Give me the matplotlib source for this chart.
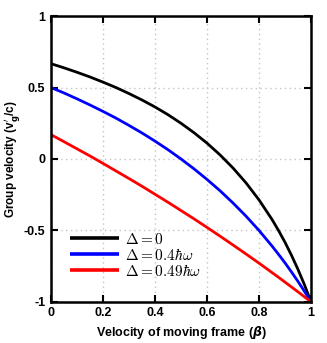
import numpy as np
import matplotlib
matplotlib.use("Agg")
import matplotlib.pyplot as plt

# values
beta = [0.0, 0.05, 0.1, 0.15, 0.2, 0.25, 0.3, 0.35, 0.4, 0.45, 0.5,
        0.55, 0.6, 0.65, 0.7, 0.75, 0.8, 0.85, 0.875, 0.9, 0.925, 0.95, 0.975, 1.0]
vg_delta0 = [0.667, 0.638, 0.607, 0.574, 0.538, 0.500, 0.458, 0.413, 0.364, 0.310,
             0.250, 0.184, 0.111, 0.029, -0.063, -0.167, -0.286, -0.423, -0.500,
             -0.583, -0.674, -0.773, -0.881, -1.0]
vg_delta04 = [0.500, 0.462, 0.421, 0.378, 0.333, 0.286, 0.235, 0.182, 0.125, 0.065,
              0.000, -0.069, -0.143, -0.222, -0.308, -0.400, -0.500, -0.609, -0.667,
              -0.727, -0.791, -0.857, -0.927, -1.0]
vg_delta049 = [0.170, 0.121, 0.071, 0.021, -0.031, -0.084, -0.137, -0.191, -0.247, -0.303,
               -0.361, -0.419, -0.479, -0.540, -0.602, -0.665, -0.729, -0.795, -0.828,
               -0.862, -0.896, -0.930, -0.965, -1.0]
labels = [r'$\Delta = 0$', r'$\Delta = 0.4\hbar\omega$', r'$\Delta = 0.49\hbar\omega$']
colors = ['black', '#0000ff', '#ff0000']

xticks = [0, 0.2, 0.4, 0.6, 0.8, 1]
xtick_labels = ['0', '0.2', '0.4', '0.6', '0.8', '1']
yticks = [-1, -0.5, 0, 0.5, 1]
ytick_labels = ['-1', '-0.5', '0', '0.5', '1']

plt.rcParams['font.family'] = ['Liberation Sans', 'DejaVu Sans']

fig = plt.figure(figsize=(3.27, 3.43), dpi=100)
ax = fig.add_axes([0.156, 0.12, 0.795, 0.833])

for ys, lab, c in zip([vg_delta0, vg_delta04, vg_delta049], labels, colors):
    ax.plot(beta, ys, color=c, lw=2.0, label=lab, solid_capstyle='butt')

ax.set_xlim(0, 1)
ax.set_ylim(-1, 1)
ax.set_xticks(xticks)
ax.set_xticklabels(xtick_labels, fontweight='bold', fontsize=9)
ax.set_yticks(yticks)
ax.set_yticklabels(ytick_labels, fontweight='bold', fontsize=9)
ax.tick_params(direction='in', length=5, width=1.5, top=True, right=True, pad=4)
ax.grid(True, color='#c4c4c4', linestyle=(0, (1, 2.5)), linewidth=1.0)
for sp in ax.spines.values():
    sp.set_linewidth(1.8)

ax.set_xlabel(r'Velocity of moving frame ($\boldsymbol{\beta}$)', fontweight='bold',
              fontsize=9, labelpad=3)
ax.set_ylabel(r'Group velocity (v$^{\prime}_{\mathbf{g}}$/c)', fontweight='bold',
              fontsize=8.5, labelpad=1)

leg = ax.legend(loc='lower left', bbox_to_anchor=(0.05, 0.06), frameon=False,
                prop={'size': 11, 'math_fontfamily': 'cm'},
                handlelength=3.2, handletextpad=0.4, labelspacing=0.0,
                borderaxespad=0.0)
for line in leg.get_lines():
    line.set_linewidth(2.6)

fig.savefig('out.png', dpi=100)
